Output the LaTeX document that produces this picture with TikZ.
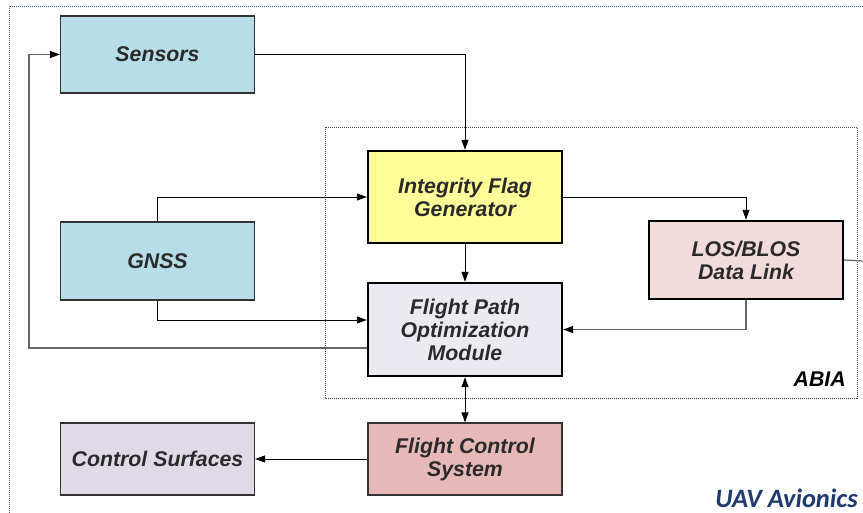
\documentclass[tikz,border=0pt]{standalone}
\usepackage{fontspec}
\setmainfont{Liberation Sans}
\newfontfamily\calibrifont{Carlito}
\usetikzlibrary{arrows.meta}

\definecolor{sensblue}{HTML}{B7DEE8}
\definecolor{flagyellow}{HTML}{FFFF99}
\definecolor{fpomgray}{HTML}{ECEAF1}
\definecolor{linkpink}{HTML}{F2DCDB}
\definecolor{fcsrose}{HTML}{E6B9B8}
\definecolor{surflav}{HTML}{E0D9E6}
\definecolor{txtgray}{HTML}{2A2A2A}
\definecolor{framebl}{HTML}{3F5F92}
\definecolor{avnavy}{HTML}{1F3A6E}

\tikzset{
  blockbase/.style={rectangle, inner sep=0pt, align=center,
    minimum width=194pt, text=txtgray,
    font=\bfseries\itshape\fontsize{21.3}{23}\selectfont},
  thinblock/.style={blockbase, draw=black!80, line width=1.2pt},
  thickblock/.style={blockbase, draw=black, line width=2.4pt},
  tip/.tip={Triangle[length=10pt,width=7pt,color=black]},
  arr/.style={draw=black, line width=0.9pt, -tip},
  dualarr/.style={draw=black, line width=0.9pt, tip-tip},
  grayline/.style={draw=black!60, line width=1.2pt},
}

\begin{document}
\begin{tikzpicture}[x=1pt, y=-1pt]
\useasboundingbox (0,0) rectangle (863,513);

% outer avionics frame
\draw[framebl, line width=0.8pt, dash pattern=on 1pt off 1pt]
  (9,513) -- (9,6) -- (863,6);

% ABIA frame
\draw[black!70, line width=0.7pt, dash pattern=on 1pt off 1pt]
  (325,127) rectangle (857,398);

% blocks
\node[thinblock, fill=sensblue, minimum height=77pt] (sens) at (157.5,54.5) {Sensors};
\node[thinblock, fill=sensblue, minimum height=78pt] (gnss) at (157.5,261) {GNSS};
\node[thickblock, fill=flagyellow, minimum height=92pt] (ifg) at (465,197) {Integrity Flag\\Generator};
\node[thickblock, fill=fpomgray, minimum height=93pt] (fpom) at (465,329.5) {Flight Path\\Optimization\\Module};
\node[thickblock, fill=linkpink, minimum height=78pt] (los) at (746,260) {LOS/BLOS\\Data Link};
\node[thinblock, fill=fcsrose, minimum height=72pt] (fcs) at (465,459) {Flight Control\\System};
\node[thinblock, fill=surflav, minimum height=72pt] (cs) at (157.5,459) {Control Surfaces};

% free ends of connectors
\coordinate (loopcorner) at (29,348);
\coordinate (linkout) at (863,261);

% connectors
\draw[arr] (sens.east) -| (ifg.north);
\draw[arr] (gnss.north) |- (ifg.west);
\draw[arr] (gnss.south) |- ([yshift=9.5pt]fpom.west);
\draw[grayline, -tip]
  ([yshift=-18.5pt]fpom.west) -- (loopcorner) |- (sens.west);
\draw[arr] (ifg.south) -- (fpom.north);
\draw[arr] (ifg.east) -| (los.north);
\draw[grayline, -tip] (los.south) |- (fpom.east);
\draw[grayline] (los.east) -- (linkout);
\draw[dualarr] (fpom.south) -- (fcs.north);
\draw[arr] (fcs.west) -- (cs.east);

% labels
\node[anchor=base east, inner sep=0pt, text=black,
  font=\bfseries\itshape\fontsize{21.3}{23}\selectfont] (abia) at (846,386) {ABIA};
\node[anchor=base east, inner sep=0pt, text=avnavy,
  font=\calibrifont\bfseries\itshape\fontsize{26.5}{29}\selectfont] (uav) at (858,507) {UAV Avionics};
\end{tikzpicture}
\end{document}
